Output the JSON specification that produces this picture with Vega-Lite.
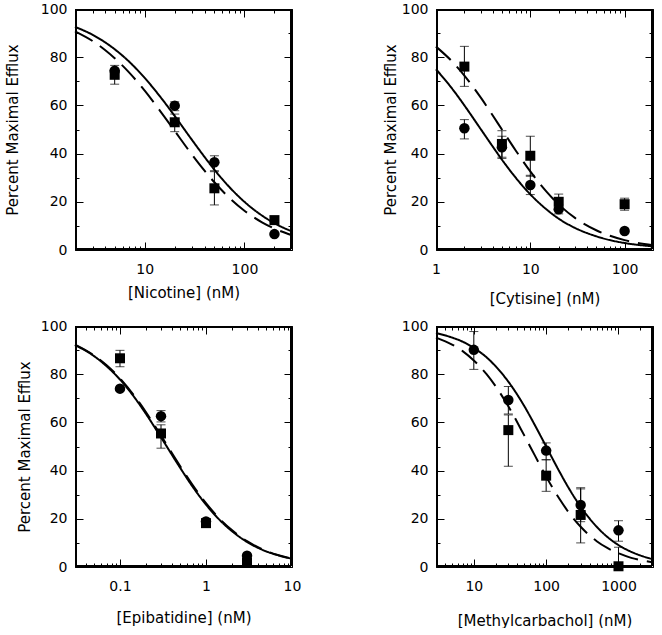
{
  "$schema": "https://vega.github.io/schema/vega-lite/v6.json",
  "padding": {"left": 5, "top": 2, "right": 5, "bottom": 0},
  "config": {
    "view": {"stroke": null},
    "axis": {"grid": false, "labelColor": "black", "labelFont": "DejaVu Sans", "labelFontSize": 14, "titleFont": "DejaVu Sans", "titleFontSize": 15, "titleFontWeight": "normal", "titleColor": "black", "labelOverlap": false, "labelFlush": false}
  },
  "datasets": {
    "curves": [
      {"panel":"A","series":"solid","x":2,"y":92.6},{"panel":"A","series":"solid","x":3,"y":89.3},{"panel":"A","series":"solid","x":4,"y":86.2},{"panel":"A","series":"solid","x":5,"y":83.3},{"panel":"A","series":"solid","x":7,"y":78.1},{"panel":"A","series":"solid","x":10,"y":71.4},{"panel":"A","series":"solid","x":15,"y":62.5},{"panel":"A","series":"solid","x":20,"y":55.6},{"panel":"A","series":"solid","x":30,"y":45.5},{"panel":"A","series":"solid","x":40,"y":38.5},{"panel":"A","series":"solid","x":50,"y":33.3},{"panel":"A","series":"solid","x":70,"y":26.3},{"panel":"A","series":"solid","x":100,"y":20},{"panel":"A","series":"solid","x":150,"y":14.3},{"panel":"A","series":"solid","x":200,"y":11.1},{"panel":"A","series":"solid","x":300,"y":7.7},
      {"panel":"A","series":"dashed","x":2,"y":90.7},{"panel":"A","series":"dashed","x":3,"y":86.7},{"panel":"A","series":"dashed","x":4,"y":83.0},{"panel":"A","series":"dashed","x":5,"y":79.6},{"panel":"A","series":"dashed","x":7,"y":73.6},{"panel":"A","series":"dashed","x":10,"y":66.1},{"panel":"A","series":"dashed","x":15,"y":56.5},{"panel":"A","series":"dashed","x":20,"y":49.4},{"panel":"A","series":"dashed","x":30,"y":39.4},{"panel":"A","series":"dashed","x":40,"y":32.8},{"panel":"A","series":"dashed","x":50,"y":28.1},{"panel":"A","series":"dashed","x":70,"y":21.8},{"panel":"A","series":"dashed","x":100,"y":16.3},{"panel":"A","series":"dashed","x":150,"y":11.5},{"panel":"A","series":"dashed","x":200,"y":8.9},{"panel":"A","series":"dashed","x":300,"y":6.1},
      {"panel":"B","series":"solid","x":1,"y":75.0},{"panel":"B","series":"solid","x":1.5,"y":66.7},{"panel":"B","series":"solid","x":2,"y":60.0},{"panel":"B","series":"solid","x":3,"y":50},{"panel":"B","series":"solid","x":4,"y":42.9},{"panel":"B","series":"solid","x":5,"y":37.5},{"panel":"B","series":"solid","x":7,"y":30.0},{"panel":"B","series":"solid","x":10,"y":23.1},{"panel":"B","series":"solid","x":15,"y":16.7},{"panel":"B","series":"solid","x":20,"y":13.0},{"panel":"B","series":"solid","x":30,"y":9.1},{"panel":"B","series":"solid","x":50,"y":5.7},{"panel":"B","series":"solid","x":70,"y":4.1},{"panel":"B","series":"solid","x":100,"y":2.9},{"panel":"B","series":"solid","x":200,"y":1.5},
      {"panel":"B","series":"dashed","x":1,"y":84.4},{"panel":"B","series":"dashed","x":1.5,"y":78.0},{"panel":"B","series":"dashed","x":2,"y":72.4},{"panel":"B","series":"dashed","x":3,"y":63.1},{"panel":"B","series":"dashed","x":4,"y":55.8},{"panel":"B","series":"dashed","x":5,"y":50},{"panel":"B","series":"dashed","x":7,"y":41.3},{"panel":"B","series":"dashed","x":10,"y":32.6},{"panel":"B","series":"dashed","x":15,"y":24.0},{"panel":"B","series":"dashed","x":20,"y":18.9},{"panel":"B","series":"dashed","x":30,"y":13.2},{"panel":"B","series":"dashed","x":50,"y":8.2},{"panel":"B","series":"dashed","x":70,"y":5.9},{"panel":"B","series":"dashed","x":100,"y":4.1},{"panel":"B","series":"dashed","x":200,"y":2.0},
      {"panel":"C","series":"solid","x":0.03,"y":92.1},{"panel":"C","series":"solid","x":0.05,"y":87.5},{"panel":"C","series":"solid","x":0.07,"y":83.3},{"panel":"C","series":"solid","x":0.1,"y":77.8},{"panel":"C","series":"solid","x":0.15,"y":70.0},{"panel":"C","series":"solid","x":0.2,"y":63.6},{"panel":"C","series":"solid","x":0.3,"y":53.8},{"panel":"C","series":"solid","x":0.5,"y":41.2},{"panel":"C","series":"solid","x":0.7,"y":33.3},{"panel":"C","series":"solid","x":1,"y":25.9},{"panel":"C","series":"solid","x":1.5,"y":18.9},{"panel":"C","series":"solid","x":2,"y":14.9},{"panel":"C","series":"solid","x":3,"y":10.4},{"panel":"C","series":"solid","x":5,"y":6.5},{"panel":"C","series":"solid","x":7,"y":4.8},{"panel":"C","series":"solid","x":10,"y":3.4},
      {"panel":"C","series":"dashed","x":0.03,"y":92.3},{"panel":"C","series":"dashed","x":0.05,"y":87.8},{"panel":"C","series":"dashed","x":0.07,"y":83.7},{"panel":"C","series":"dashed","x":0.1,"y":78.3},{"panel":"C","series":"dashed","x":0.15,"y":70.6},{"panel":"C","series":"dashed","x":0.2,"y":64.3},{"panel":"C","series":"dashed","x":0.3,"y":54.5},{"panel":"C","series":"dashed","x":0.5,"y":41.9},{"panel":"C","series":"dashed","x":0.7,"y":34.0},{"panel":"C","series":"dashed","x":1,"y":26.5},{"panel":"C","series":"dashed","x":1.5,"y":19.4},{"panel":"C","series":"dashed","x":2,"y":15.3},{"panel":"C","series":"dashed","x":3,"y":10.7},{"panel":"C","series":"dashed","x":5,"y":6.7},{"panel":"C","series":"dashed","x":7,"y":4.9},{"panel":"C","series":"dashed","x":10,"y":3.5},
      {"panel":"D","series":"solid","x":3,"y":97.1},{"panel":"D","series":"solid","x":5,"y":95.2},{"panel":"D","series":"solid","x":7,"y":93.5},{"panel":"D","series":"solid","x":10,"y":90.9},{"panel":"D","series":"solid","x":15,"y":87.0},{"panel":"D","series":"solid","x":20,"y":83.3},{"panel":"D","series":"solid","x":30,"y":76.9},{"panel":"D","series":"solid","x":50,"y":66.7},{"panel":"D","series":"solid","x":70,"y":58.8},{"panel":"D","series":"solid","x":100,"y":50},{"panel":"D","series":"solid","x":150,"y":40},{"panel":"D","series":"solid","x":200,"y":33.3},{"panel":"D","series":"solid","x":300,"y":25},{"panel":"D","series":"solid","x":500,"y":16.7},{"panel":"D","series":"solid","x":700,"y":12.5},{"panel":"D","series":"solid","x":1000,"y":9.1},{"panel":"D","series":"solid","x":1500,"y":6.3},{"panel":"D","series":"solid","x":2000,"y":4.8},{"panel":"D","series":"solid","x":3000,"y":3.2},
      {"panel":"D","series":"dashed","x":3,"y":95.2},{"panel":"D","series":"dashed","x":5,"y":92.3},{"panel":"D","series":"dashed","x":7,"y":89.6},{"panel":"D","series":"dashed","x":10,"y":85.7},{"panel":"D","series":"dashed","x":15,"y":80},{"panel":"D","series":"dashed","x":20,"y":75},{"panel":"D","series":"dashed","x":30,"y":66.7},{"panel":"D","series":"dashed","x":50,"y":54.5},{"panel":"D","series":"dashed","x":70,"y":46.2},{"panel":"D","series":"dashed","x":100,"y":37.5},{"panel":"D","series":"dashed","x":150,"y":28.6},{"panel":"D","series":"dashed","x":200,"y":23.1},{"panel":"D","series":"dashed","x":300,"y":16.7},{"panel":"D","series":"dashed","x":500,"y":10.7},{"panel":"D","series":"dashed","x":700,"y":7.9},{"panel":"D","series":"dashed","x":1000,"y":5.7},{"panel":"D","series":"dashed","x":1500,"y":3.8},{"panel":"D","series":"dashed","x":2000,"y":2.9},{"panel":"D","series":"dashed","x":3000,"y":2.0}
    ],
    "points": [
      {"panel":"A","series":"circle","x":5,"y":74.4},
      {"panel":"A","series":"square","x":5,"y":72.7,"lo":68.8,"hi":76.6},
      {"panel":"A","series":"circle","x":20,"y":59.9,"lo":57.8,"hi":61.5},
      {"panel":"A","series":"square","x":20,"y":53.0,"lo":49.1,"hi":56.4},
      {"panel":"A","series":"circle","x":50,"y":36.4,"lo":32.9,"hi":39.1},
      {"panel":"A","series":"square","x":50,"y":25.6,"lo":18.7,"hi":32.5},
      {"panel":"A","series":"square","x":200,"y":12.4},
      {"panel":"A","series":"circle","x":200,"y":6.6},
      {"panel":"B","series":"square","x":2,"y":76.1,"lo":67.9,"hi":84.5},
      {"panel":"B","series":"circle","x":2,"y":50.5,"lo":46.1,"hi":54.1},
      {"panel":"B","series":"square","x":5,"y":44.0,"lo":38.5,"hi":49.5},
      {"panel":"B","series":"circle","x":5,"y":42.6,"lo":38.0,"hi":47.2},
      {"panel":"B","series":"square","x":10,"y":39.1,"lo":30.6,"hi":47.2},
      {"panel":"B","series":"circle","x":10,"y":27.0,"lo":23.0,"hi":31.0},
      {"panel":"B","series":"square","x":20,"y":20.0,"lo":16.8,"hi":23.2},
      {"panel":"B","series":"circle","x":20,"y":16.9,"lo":15.0,"hi":18.8},
      {"panel":"B","series":"square","x":100,"y":19.0,"lo":16.5,"hi":21.5},
      {"panel":"B","series":"circle","x":100,"y":7.9},
      {"panel":"C","series":"square","x":0.1,"y":86.6,"lo":83.1,"hi":89.9},
      {"panel":"C","series":"circle","x":0.1,"y":74.0},
      {"panel":"C","series":"circle","x":0.3,"y":62.6,"lo":60.2,"hi":64.9},
      {"panel":"C","series":"square","x":0.3,"y":55.4,"lo":49.3,"hi":59.0},
      {"panel":"C","series":"circle","x":1,"y":18.9},
      {"panel":"C","series":"square","x":1,"y":18.2},
      {"panel":"C","series":"circle","x":3,"y":4.7},
      {"panel":"C","series":"square","x":3,"y":1.7},
      {"panel":"D","series":"circle","x":10,"y":90.1,"lo":82.0,"hi":97.7},
      {"panel":"D","series":"circle","x":30,"y":69.3,"lo":63.5,"hi":74.9},
      {"panel":"D","series":"square","x":30,"y":56.8,"lo":41.8,"hi":63.1},
      {"panel":"D","series":"circle","x":100,"y":48.3,"lo":44.5,"hi":51.5},
      {"panel":"D","series":"square","x":100,"y":37.9,"lo":31.4,"hi":44.5},
      {"panel":"D","series":"circle","x":300,"y":25.7,"lo":18.8,"hi":32.9},
      {"panel":"D","series":"square","x":300,"y":21.6,"lo":10.0,"hi":32.4},
      {"panel":"D","series":"circle","x":1000,"y":15.2,"lo":10.7,"hi":19.2},
      {"panel":"D","series":"square","x":1000,"y":0.3,"lo":0,"hi":8.2}
    ]
  },
  "columns": 2,
  "bounds": "flush",
  "spacing": {"row": 76, "column": 144},
  "concat": [
    {
      "width": 217, "height": 241,
      "layer": [
        {"data": {"name": "points"}, "transform": [{"filter": "datum.panel == 'A'"}], "mark": {"type": "rule", "color": "black", "strokeWidth": 1},
          "encoding": {"x": {"datum": 2.046, "type": "quantitative", "scale": {"type": "log", "domain": [2, 300], "nice": false}, "axis": null}, "y": {"datum": 0.4, "type": "quantitative", "scale": {"domain": [0, 100], "nice": false}, "axis": null}, "y2": {"datum": 99.6}}},
        {"data": {"name": "points"}, "transform": [{"filter": "datum.panel == 'A'"}], "mark": {"type": "rule", "color": "black", "strokeWidth": 1},
          "encoding": {"x": {"datum": 293.2, "type": "quantitative", "scale": {"type": "log", "domain": [2, 300], "nice": false}, "axis": null}, "y": {"datum": 0.4, "type": "quantitative", "scale": {"domain": [0, 100], "nice": false}, "axis": null}, "y2": {"datum": 99.6}}},
        {"data": {"name": "points"}, "transform": [{"filter": "datum.panel == 'A'"}], "mark": {"type": "rule", "color": "black", "strokeWidth": 1},
          "encoding": {"x": {"datum": 2.046, "type": "quantitative", "scale": {"type": "log", "domain": [2, 300], "nice": false}, "axis": null}, "x2": {"datum": 293.2}, "y": {"datum": 0.4, "type": "quantitative", "scale": {"domain": [0, 100], "nice": false}, "axis": null}}},
        {"data": {"name": "points"}, "transform": [{"filter": "datum.panel == 'A'"}], "mark": {"type": "rule", "color": "black", "strokeWidth": 1},
          "encoding": {"x": {"datum": 2.046, "type": "quantitative", "scale": {"type": "log", "domain": [2, 300], "nice": false}, "axis": null}, "x2": {"datum": 293.2}, "y": {"datum": 99.6, "type": "quantitative", "scale": {"domain": [0, 100], "nice": false}, "axis": null}}},
        {
          "data": {"name": "curves"},
          "transform": [{"filter": "datum.panel == 'A'"}],
          "mark": {"type": "line", "color": "black", "strokeWidth": 2, "interpolate": "monotone"},
          "encoding": {
            "x": {"field": "x", "type": "quantitative", "scale": {"type": "log", "domain": [2, 300], "nice": false},
              "axis": {"orient": "bottom", "values": [10, 100], "format": "~g", "domain": true, "domainColor": "black", "domainWidth": 1, "ticks": true, "tickColor": "black", "tickWidth": 1, "tickSize": -8, "labelPadding": 20, "title": "[Nicotine]  (nM)", "titlePadding": 9}},
            "y": {"field": "y", "type": "quantitative", "scale": {"domain": [0, 100], "nice": false},
              "axis": {"orient": "left", "values": [0, 20, 40, 60, 80, 100], "domain": true, "domainColor": "black", "domainWidth": 1, "ticks": true, "tickColor": "black", "tickWidth": 1, "tickSize": -8, "labelPadding": 16, "title": "Percent Maximal Efflux", "titlePadding": 20}},
            "strokeDash": {"field": "series", "type": "nominal", "scale": {"domain": ["solid", "dashed"], "range": [[1, 0], [20, 9]]}, "legend": null}
          }
        },
        {
          "data": {"name": "points"},
          "transform": [{"filter": "datum.panel == 'A' && isValid(datum.lo)"}],
          "mark": {"type": "rule", "color": "black", "strokeWidth": 1},
          "encoding": {
            "x": {"field": "x", "type": "quantitative", "scale": {"type": "log", "domain": [2, 300], "nice": false},
              "axis": {"orient": "top", "values": [10, 100], "labels": false, "title": null, "domain": true, "domainColor": "black", "domainWidth": 1, "ticks": true, "tickColor": "black", "tickWidth": 1, "tickSize": -8}},
            "y": {"field": "lo", "type": "quantitative", "scale": {"domain": [0, 100], "nice": false},
              "axis": {"orient": "right", "values": [0, 20, 40, 60, 80, 100], "labels": false, "title": null, "domain": true, "domainColor": "black", "domainWidth": 1, "ticks": true, "tickColor": "black", "tickWidth": 1, "tickSize": -8}},
            "y2": {"field": "hi"}
          }
        },
        {
          "data": {"name": "points"},
          "transform": [{"filter": "datum.panel == 'A' && isValid(datum.lo)"}],
          "mark": {"type": "tick", "orient": "horizontal", "color": "black", "size": 9, "thickness": 1},
          "encoding": {
            "x": {"field": "x", "type": "quantitative", "scale": {"type": "log", "domain": [2, 300], "nice": false},
              "axis": {"orient": "bottom", "values": [2,3,4,5,6,7,8,9,20,30,40,50,60,70,80,90,200,300], "domain": false, "labels": false, "title": null, "ticks": true, "tickColor": "black", "tickWidth": 1, "tickSize": -4}},
            "y": {"field": "lo", "type": "quantitative", "scale": {"domain": [0, 100], "nice": false},
              "axis": {"orient": "left", "values": [10, 30, 50, 70, 90], "domain": false, "labels": false, "title": null, "ticks": true, "tickColor": "black", "tickWidth": 1, "tickSize": -4}}
          }
        },
        {
          "data": {"name": "points"},
          "transform": [{"filter": "datum.panel == 'A' && isValid(datum.lo)"}],
          "mark": {"type": "tick", "orient": "horizontal", "color": "black", "size": 9, "thickness": 1},
          "encoding": {
            "x": {"field": "x", "type": "quantitative", "scale": {"type": "log", "domain": [2, 300], "nice": false},
              "axis": {"orient": "top", "values": [2,3,4,5,6,7,8,9,20,30,40,50,60,70,80,90,200,300], "domain": false, "labels": false, "title": null, "ticks": true, "tickColor": "black", "tickWidth": 1, "tickSize": -4}},
            "y": {"field": "hi", "type": "quantitative", "scale": {"domain": [0, 100], "nice": false},
              "axis": {"orient": "right", "values": [10, 30, 50, 70, 90], "domain": false, "labels": false, "title": null, "ticks": true, "tickColor": "black", "tickWidth": 1, "tickSize": -4}}
          }
        },
        {
          "data": {"name": "points"},
          "transform": [{"filter": "datum.panel == 'A'"}],
          "mark": {"type": "point", "filled": true, "opacity": 1, "color": "black"},
          "encoding": {
            "x": {"field": "x", "type": "quantitative", "scale": {"type": "log", "domain": [2, 300], "nice": false}, "axis": null},
            "y": {"field": "y", "type": "quantitative", "scale": {"domain": [0, 100], "nice": false}, "axis": null},
            "shape": {"field": "series", "type": "nominal", "scale": {"domain": ["circle", "square"], "range": ["circle", "square"]}, "legend": null},
            "size": {"field": "series", "type": "nominal", "scale": {"domain": ["circle", "square"], "range": [110, 100]}, "legend": null}
          }
        },
        {
          "mark": {"type": "text", "text": "A", "font": "Liberation Sans", "fontSize": 22, "color": "black"},
          "encoding": {"x": {"datum": 140, "type": "quantitative", "scale": {"type": "log", "domain": [2, 300], "nice": false}, "axis": null}, "y": {"datum": 85, "type": "quantitative", "scale": {"domain": [0, 100], "nice": false}, "axis": null}}
        }
      ],
      "resolve": {"axis": {"x": "independent", "y": "independent"}}
    },
    {
      "width": 217, "height": 241,
      "layer": [
        {"data": {"name": "points"}, "transform": [{"filter": "datum.panel == 'B'"}], "mark": {"type": "rule", "color": "black", "strokeWidth": 1},
          "encoding": {"x": {"datum": 1.025, "type": "quantitative", "scale": {"type": "log", "domain": [1, 200], "nice": false}, "axis": null}, "y": {"datum": 0.4, "type": "quantitative", "scale": {"domain": [0, 100], "nice": false}, "axis": null}, "y2": {"datum": 99.6}}},
        {"data": {"name": "points"}, "transform": [{"filter": "datum.panel == 'B'"}], "mark": {"type": "rule", "color": "black", "strokeWidth": 1},
          "encoding": {"x": {"datum": 195.2, "type": "quantitative", "scale": {"type": "log", "domain": [1, 200], "nice": false}, "axis": null}, "y": {"datum": 0.4, "type": "quantitative", "scale": {"domain": [0, 100], "nice": false}, "axis": null}, "y2": {"datum": 99.6}}},
        {"data": {"name": "points"}, "transform": [{"filter": "datum.panel == 'B'"}], "mark": {"type": "rule", "color": "black", "strokeWidth": 1},
          "encoding": {"x": {"datum": 1.025, "type": "quantitative", "scale": {"type": "log", "domain": [1, 200], "nice": false}, "axis": null}, "x2": {"datum": 195.2}, "y": {"datum": 0.4, "type": "quantitative", "scale": {"domain": [0, 100], "nice": false}, "axis": null}}},
        {"data": {"name": "points"}, "transform": [{"filter": "datum.panel == 'B'"}], "mark": {"type": "rule", "color": "black", "strokeWidth": 1},
          "encoding": {"x": {"datum": 1.025, "type": "quantitative", "scale": {"type": "log", "domain": [1, 200], "nice": false}, "axis": null}, "x2": {"datum": 195.2}, "y": {"datum": 99.6, "type": "quantitative", "scale": {"domain": [0, 100], "nice": false}, "axis": null}}},
        {
          "data": {"name": "curves"},
          "transform": [{"filter": "datum.panel == 'B'"}],
          "mark": {"type": "line", "color": "black", "strokeWidth": 2, "interpolate": "monotone"},
          "encoding": {
            "x": {"field": "x", "type": "quantitative", "scale": {"type": "log", "domain": [1, 200], "nice": false},
              "axis": {"orient": "bottom", "values": [1, 10, 100], "format": "~g", "domain": true, "domainColor": "black", "domainWidth": 1, "ticks": true, "tickColor": "black", "tickWidth": 1, "tickSize": -8, "labelPadding": 20, "title": "[Cytisine]  (nM)", "titlePadding": 15}},
            "y": {"field": "y", "type": "quantitative", "scale": {"domain": [0, 100], "nice": false},
              "axis": {"orient": "left", "values": [0, 20, 40, 60, 80, 100], "domain": true, "domainColor": "black", "domainWidth": 1, "ticks": true, "tickColor": "black", "tickWidth": 1, "tickSize": -8, "labelPadding": 16, "title": "Percent Maximal Efflux", "titlePadding": 3}},
            "strokeDash": {"field": "series", "type": "nominal", "scale": {"domain": ["solid", "dashed"], "range": [[1, 0], [20, 9]]}, "legend": null}
          }
        },
        {
          "data": {"name": "points"},
          "transform": [{"filter": "datum.panel == 'B' && isValid(datum.lo)"}],
          "mark": {"type": "rule", "color": "black", "strokeWidth": 1},
          "encoding": {
            "x": {"field": "x", "type": "quantitative", "scale": {"type": "log", "domain": [1, 200], "nice": false},
              "axis": {"orient": "top", "values": [1, 10, 100], "labels": false, "title": null, "domain": true, "domainColor": "black", "domainWidth": 1, "ticks": true, "tickColor": "black", "tickWidth": 1, "tickSize": -8}},
            "y": {"field": "lo", "type": "quantitative", "scale": {"domain": [0, 100], "nice": false},
              "axis": {"orient": "right", "values": [0, 20, 40, 60, 80, 100], "labels": false, "title": null, "domain": true, "domainColor": "black", "domainWidth": 1, "ticks": true, "tickColor": "black", "tickWidth": 1, "tickSize": -8}},
            "y2": {"field": "hi"}
          }
        },
        {
          "data": {"name": "points"},
          "transform": [{"filter": "datum.panel == 'B' && isValid(datum.lo)"}],
          "mark": {"type": "tick", "orient": "horizontal", "color": "black", "size": 9, "thickness": 1},
          "encoding": {
            "x": {"field": "x", "type": "quantitative", "scale": {"type": "log", "domain": [1, 200], "nice": false},
              "axis": {"orient": "bottom", "values": [2,3,4,5,6,7,8,9,20,30,40,50,60,70,80,90,200], "domain": false, "labels": false, "title": null, "ticks": true, "tickColor": "black", "tickWidth": 1, "tickSize": -4}},
            "y": {"field": "lo", "type": "quantitative", "scale": {"domain": [0, 100], "nice": false},
              "axis": {"orient": "left", "values": [10, 30, 50, 70, 90], "domain": false, "labels": false, "title": null, "ticks": true, "tickColor": "black", "tickWidth": 1, "tickSize": -4}}
          }
        },
        {
          "data": {"name": "points"},
          "transform": [{"filter": "datum.panel == 'B' && isValid(datum.lo)"}],
          "mark": {"type": "tick", "orient": "horizontal", "color": "black", "size": 9, "thickness": 1},
          "encoding": {
            "x": {"field": "x", "type": "quantitative", "scale": {"type": "log", "domain": [1, 200], "nice": false},
              "axis": {"orient": "top", "values": [2,3,4,5,6,7,8,9,20,30,40,50,60,70,80,90,200], "domain": false, "labels": false, "title": null, "ticks": true, "tickColor": "black", "tickWidth": 1, "tickSize": -4}},
            "y": {"field": "hi", "type": "quantitative", "scale": {"domain": [0, 100], "nice": false},
              "axis": {"orient": "right", "values": [10, 30, 50, 70, 90], "domain": false, "labels": false, "title": null, "ticks": true, "tickColor": "black", "tickWidth": 1, "tickSize": -4}}
          }
        },
        {
          "data": {"name": "points"},
          "transform": [{"filter": "datum.panel == 'B'"}],
          "mark": {"type": "point", "filled": true, "opacity": 1, "color": "black"},
          "encoding": {
            "x": {"field": "x", "type": "quantitative", "scale": {"type": "log", "domain": [1, 200], "nice": false}, "axis": null},
            "y": {"field": "y", "type": "quantitative", "scale": {"domain": [0, 100], "nice": false}, "axis": null},
            "shape": {"field": "series", "type": "nominal", "scale": {"domain": ["circle", "square"], "range": ["circle", "square"]}, "legend": null},
            "size": {"field": "series", "type": "nominal", "scale": {"domain": ["circle", "square"], "range": [110, 100]}, "legend": null}
          }
        },
        {
          "mark": {"type": "text", "text": "B", "font": "Liberation Sans", "fontSize": 22, "color": "black"},
          "encoding": {"x": {"datum": 80, "type": "quantitative", "scale": {"type": "log", "domain": [1, 200], "nice": false}, "axis": null}, "y": {"datum": 85, "type": "quantitative", "scale": {"domain": [0, 100], "nice": false}, "axis": null}}
        }
      ],
      "resolve": {"axis": {"x": "independent", "y": "independent"}}
    },
    {
      "width": 217, "height": 241,
      "layer": [
        {"data": {"name": "points"}, "transform": [{"filter": "datum.panel == 'C'"}], "mark": {"type": "rule", "color": "black", "strokeWidth": 1},
          "encoding": {"x": {"datum": 0.0308, "type": "quantitative", "scale": {"type": "log", "domain": [0.03, 10], "nice": false}, "axis": null}, "y": {"datum": 0.4, "type": "quantitative", "scale": {"domain": [0, 100], "nice": false}, "axis": null}, "y2": {"datum": 99.6}}},
        {"data": {"name": "points"}, "transform": [{"filter": "datum.panel == 'C'"}], "mark": {"type": "rule", "color": "black", "strokeWidth": 1},
          "encoding": {"x": {"datum": 9.735, "type": "quantitative", "scale": {"type": "log", "domain": [0.03, 10], "nice": false}, "axis": null}, "y": {"datum": 0.4, "type": "quantitative", "scale": {"domain": [0, 100], "nice": false}, "axis": null}, "y2": {"datum": 99.6}}},
        {"data": {"name": "points"}, "transform": [{"filter": "datum.panel == 'C'"}], "mark": {"type": "rule", "color": "black", "strokeWidth": 1},
          "encoding": {"x": {"datum": 0.0308, "type": "quantitative", "scale": {"type": "log", "domain": [0.03, 10], "nice": false}, "axis": null}, "x2": {"datum": 9.735}, "y": {"datum": 0.4, "type": "quantitative", "scale": {"domain": [0, 100], "nice": false}, "axis": null}}},
        {"data": {"name": "points"}, "transform": [{"filter": "datum.panel == 'C'"}], "mark": {"type": "rule", "color": "black", "strokeWidth": 1},
          "encoding": {"x": {"datum": 0.0308, "type": "quantitative", "scale": {"type": "log", "domain": [0.03, 10], "nice": false}, "axis": null}, "x2": {"datum": 9.735}, "y": {"datum": 99.6, "type": "quantitative", "scale": {"domain": [0, 100], "nice": false}, "axis": null}}},
        {
          "data": {"name": "curves"},
          "transform": [{"filter": "datum.panel == 'C'"}],
          "mark": {"type": "line", "color": "black", "strokeWidth": 2, "interpolate": "monotone"},
          "encoding": {
            "x": {"field": "x", "type": "quantitative", "scale": {"type": "log", "domain": [0.03, 10], "nice": false},
              "axis": {"orient": "bottom", "values": [0.1, 1, 10], "format": "~g", "domain": true, "domainColor": "black", "domainWidth": 1, "ticks": true, "tickColor": "black", "tickWidth": 1, "tickSize": -8, "labelPadding": 20, "title": "[Epibatidine]  (nM)", "titlePadding": 17}},
            "y": {"field": "y", "type": "quantitative", "scale": {"domain": [0, 100], "nice": false},
              "axis": {"orient": "left", "values": [0, 20, 40, 60, 80, 100], "domain": true, "domainColor": "black", "domainWidth": 1, "ticks": true, "tickColor": "black", "tickWidth": 1, "tickSize": -8, "labelPadding": 16, "title": "Percent Maximal Efflux", "titlePadding": 8}},
            "strokeDash": {"field": "series", "type": "nominal", "scale": {"domain": ["solid", "dashed"], "range": [[1, 0], [20, 9]]}, "legend": null}
          }
        },
        {
          "data": {"name": "points"},
          "transform": [{"filter": "datum.panel == 'C' && isValid(datum.lo)"}],
          "mark": {"type": "rule", "color": "black", "strokeWidth": 1},
          "encoding": {
            "x": {"field": "x", "type": "quantitative", "scale": {"type": "log", "domain": [0.03, 10], "nice": false},
              "axis": {"orient": "top", "values": [0.1, 1, 10], "labels": false, "title": null, "domain": true, "domainColor": "black", "domainWidth": 1, "ticks": true, "tickColor": "black", "tickWidth": 1, "tickSize": -8}},
            "y": {"field": "lo", "type": "quantitative", "scale": {"domain": [0, 100], "nice": false},
              "axis": {"orient": "right", "values": [0, 20, 40, 60, 80, 100], "labels": false, "title": null, "domain": true, "domainColor": "black", "domainWidth": 1, "ticks": true, "tickColor": "black", "tickWidth": 1, "tickSize": -8}},
            "y2": {"field": "hi"}
          }
        },
        {
          "data": {"name": "points"},
          "transform": [{"filter": "datum.panel == 'C' && isValid(datum.lo)"}],
          "mark": {"type": "tick", "orient": "horizontal", "color": "black", "size": 9, "thickness": 1},
          "encoding": {
            "x": {"field": "x", "type": "quantitative", "scale": {"type": "log", "domain": [0.03, 10], "nice": false},
              "axis": {"orient": "bottom", "values": [0.03,0.04,0.05,0.06,0.07,0.08,0.09,0.2,0.3,0.4,0.5,0.6,0.7,0.8,0.9,2,3,4,5,6,7,8,9], "domain": false, "labels": false, "title": null, "ticks": true, "tickColor": "black", "tickWidth": 1, "tickSize": -4}},
            "y": {"field": "lo", "type": "quantitative", "scale": {"domain": [0, 100], "nice": false},
              "axis": {"orient": "left", "values": [10, 30, 50, 70, 90], "domain": false, "labels": false, "title": null, "ticks": true, "tickColor": "black", "tickWidth": 1, "tickSize": -4}}
          }
        },
        {
          "data": {"name": "points"},
          "transform": [{"filter": "datum.panel == 'C' && isValid(datum.lo)"}],
          "mark": {"type": "tick", "orient": "horizontal", "color": "black", "size": 9, "thickness": 1},
          "encoding": {
            "x": {"field": "x", "type": "quantitative", "scale": {"type": "log", "domain": [0.03, 10], "nice": false},
              "axis": {"orient": "top", "values": [0.03,0.04,0.05,0.06,0.07,0.08,0.09,0.2,0.3,0.4,0.5,0.6,0.7,0.8,0.9,2,3,4,5,6,7,8,9], "domain": false, "labels": false, "title": null, "ticks": true, "tickColor": "black", "tickWidth": 1, "tickSize": -4}},
            "y": {"field": "hi", "type": "quantitative", "scale": {"domain": [0, 100], "nice": false},
              "axis": {"orient": "right", "values": [10, 30, 50, 70, 90], "domain": false, "labels": false, "title": null, "ticks": true, "tickColor": "black", "tickWidth": 1, "tickSize": -4}}
          }
        },
        {
          "data": {"name": "points"},
          "transform": [{"filter": "datum.panel == 'C'"}],
          "mark": {"type": "point", "filled": true, "opacity": 1, "color": "black"},
          "encoding": {
            "x": {"field": "x", "type": "quantitative", "scale": {"type": "log", "domain": [0.03, 10], "nice": false}, "axis": null},
            "y": {"field": "y", "type": "quantitative", "scale": {"domain": [0, 100], "nice": false}, "axis": null},
            "shape": {"field": "series", "type": "nominal", "scale": {"domain": ["circle", "square"], "range": ["circle", "square"]}, "legend": null},
            "size": {"field": "series", "type": "nominal", "scale": {"domain": ["circle", "square"], "range": [110, 100]}, "legend": null}
          }
        },
        {
          "mark": {"type": "text", "text": "C", "font": "Liberation Sans", "fontSize": 22, "color": "black"},
          "encoding": {"x": {"datum": 4.1, "type": "quantitative", "scale": {"type": "log", "domain": [0.03, 10], "nice": false}, "axis": null}, "y": {"datum": 87.6, "type": "quantitative", "scale": {"domain": [0, 100], "nice": false}, "axis": null}}
        }
      ],
      "resolve": {"axis": {"x": "independent", "y": "independent"}}
    },
    {
      "width": 217, "height": 241,
      "layer": [
        {"data": {"name": "points"}, "transform": [{"filter": "datum.panel == 'D'"}], "mark": {"type": "rule", "color": "black", "strokeWidth": 1},
          "encoding": {"x": {"datum": 3.097, "type": "quantitative", "scale": {"type": "log", "domain": [3, 3000], "nice": false}, "axis": null}, "y": {"datum": 0.4, "type": "quantitative", "scale": {"domain": [0, 100], "nice": false}, "axis": null}, "y2": {"datum": 99.6}}},
        {"data": {"name": "points"}, "transform": [{"filter": "datum.panel == 'D'"}], "mark": {"type": "rule", "color": "black", "strokeWidth": 1},
          "encoding": {"x": {"datum": 2906, "type": "quantitative", "scale": {"type": "log", "domain": [3, 3000], "nice": false}, "axis": null}, "y": {"datum": 0.4, "type": "quantitative", "scale": {"domain": [0, 100], "nice": false}, "axis": null}, "y2": {"datum": 99.6}}},
        {"data": {"name": "points"}, "transform": [{"filter": "datum.panel == 'D'"}], "mark": {"type": "rule", "color": "black", "strokeWidth": 1},
          "encoding": {"x": {"datum": 3.097, "type": "quantitative", "scale": {"type": "log", "domain": [3, 3000], "nice": false}, "axis": null}, "x2": {"datum": 2906}, "y": {"datum": 0.4, "type": "quantitative", "scale": {"domain": [0, 100], "nice": false}, "axis": null}}},
        {"data": {"name": "points"}, "transform": [{"filter": "datum.panel == 'D'"}], "mark": {"type": "rule", "color": "black", "strokeWidth": 1},
          "encoding": {"x": {"datum": 3.097, "type": "quantitative", "scale": {"type": "log", "domain": [3, 3000], "nice": false}, "axis": null}, "x2": {"datum": 2906}, "y": {"datum": 99.6, "type": "quantitative", "scale": {"domain": [0, 100], "nice": false}, "axis": null}}},
        {
          "data": {"name": "curves"},
          "transform": [{"filter": "datum.panel == 'D'"}],
          "mark": {"type": "line", "color": "black", "strokeWidth": 2, "interpolate": "monotone"},
          "encoding": {
            "x": {"field": "x", "type": "quantitative", "scale": {"type": "log", "domain": [3, 3000], "nice": false},
              "axis": {"orient": "bottom", "values": [10, 100, 1000], "format": "~g", "domain": true, "domainColor": "black", "domainWidth": 1, "ticks": true, "tickColor": "black", "tickWidth": 1, "tickSize": -8, "labelPadding": 20, "title": "[Methylcarbachol]  (nM)", "titlePadding": 20}},
            "y": {"field": "y", "type": "quantitative", "scale": {"domain": [0, 100], "nice": false},
              "axis": {"orient": "left", "values": [0, 20, 40, 60, 80, 100], "domain": true, "domainColor": "black", "domainWidth": 1, "ticks": true, "tickColor": "black", "tickWidth": 1, "tickSize": -8, "labelPadding": 16, "title": null}},
            "strokeDash": {"field": "series", "type": "nominal", "scale": {"domain": ["solid", "dashed"], "range": [[1, 0], [20, 9]]}, "legend": null}
          }
        },
        {
          "data": {"name": "points"},
          "transform": [{"filter": "datum.panel == 'D' && isValid(datum.lo)"}],
          "mark": {"type": "rule", "color": "black", "strokeWidth": 1},
          "encoding": {
            "x": {"field": "x", "type": "quantitative", "scale": {"type": "log", "domain": [3, 3000], "nice": false},
              "axis": {"orient": "top", "values": [10, 100, 1000], "labels": false, "title": null, "domain": true, "domainColor": "black", "domainWidth": 1, "ticks": true, "tickColor": "black", "tickWidth": 1, "tickSize": -8}},
            "y": {"field": "lo", "type": "quantitative", "scale": {"domain": [0, 100], "nice": false},
              "axis": {"orient": "right", "values": [0, 20, 40, 60, 80, 100], "labels": false, "title": null, "domain": true, "domainColor": "black", "domainWidth": 1, "ticks": true, "tickColor": "black", "tickWidth": 1, "tickSize": -8}},
            "y2": {"field": "hi"}
          }
        },
        {
          "data": {"name": "points"},
          "transform": [{"filter": "datum.panel == 'D' && isValid(datum.lo)"}],
          "mark": {"type": "tick", "orient": "horizontal", "color": "black", "size": 9, "thickness": 1},
          "encoding": {
            "x": {"field": "x", "type": "quantitative", "scale": {"type": "log", "domain": [3, 3000], "nice": false},
              "axis": {"orient": "bottom", "values": [3,4,5,6,7,8,9,20,30,40,50,60,70,80,90,200,300,400,500,600,700,800,900,2000,3000], "domain": false, "labels": false, "title": null, "ticks": true, "tickColor": "black", "tickWidth": 1, "tickSize": -4}},
            "y": {"field": "lo", "type": "quantitative", "scale": {"domain": [0, 100], "nice": false},
              "axis": {"orient": "left", "values": [10, 30, 50, 70, 90], "domain": false, "labels": false, "title": null, "ticks": true, "tickColor": "black", "tickWidth": 1, "tickSize": -4}}
          }
        },
        {
          "data": {"name": "points"},
          "transform": [{"filter": "datum.panel == 'D' && isValid(datum.lo)"}],
          "mark": {"type": "tick", "orient": "horizontal", "color": "black", "size": 9, "thickness": 1},
          "encoding": {
            "x": {"field": "x", "type": "quantitative", "scale": {"type": "log", "domain": [3, 3000], "nice": false},
              "axis": {"orient": "top", "values": [3,4,5,6,7,8,9,20,30,40,50,60,70,80,90,200,300,400,500,600,700,800,900,2000,3000], "domain": false, "labels": false, "title": null, "ticks": true, "tickColor": "black", "tickWidth": 1, "tickSize": -4}},
            "y": {"field": "hi", "type": "quantitative", "scale": {"domain": [0, 100], "nice": false},
              "axis": {"orient": "right", "values": [10, 30, 50, 70, 90], "domain": false, "labels": false, "title": null, "ticks": true, "tickColor": "black", "tickWidth": 1, "tickSize": -4}}
          }
        },
        {
          "data": {"name": "points"},
          "transform": [{"filter": "datum.panel == 'D'"}],
          "mark": {"type": "point", "filled": true, "opacity": 1, "color": "black"},
          "encoding": {
            "x": {"field": "x", "type": "quantitative", "scale": {"type": "log", "domain": [3, 3000], "nice": false}, "axis": null},
            "y": {"field": "y", "type": "quantitative", "scale": {"domain": [0, 100], "nice": false}, "axis": null},
            "shape": {"field": "series", "type": "nominal", "scale": {"domain": ["circle", "square"], "range": ["circle", "square"]}, "legend": null},
            "size": {"field": "series", "type": "nominal", "scale": {"domain": ["circle", "square"], "range": [110, 100]}, "legend": null}
          }
        },
        {
          "mark": {"type": "text", "text": "D", "font": "Liberation Sans", "fontSize": 22, "color": "black"},
          "encoding": {"x": {"datum": 1080, "type": "quantitative", "scale": {"type": "log", "domain": [3, 3000], "nice": false}, "axis": null}, "y": {"datum": 87.8, "type": "quantitative", "scale": {"domain": [0, 100], "nice": false}, "axis": null}}
        }
      ],
      "resolve": {"axis": {"x": "independent", "y": "independent"}}
    }
  ]
}
